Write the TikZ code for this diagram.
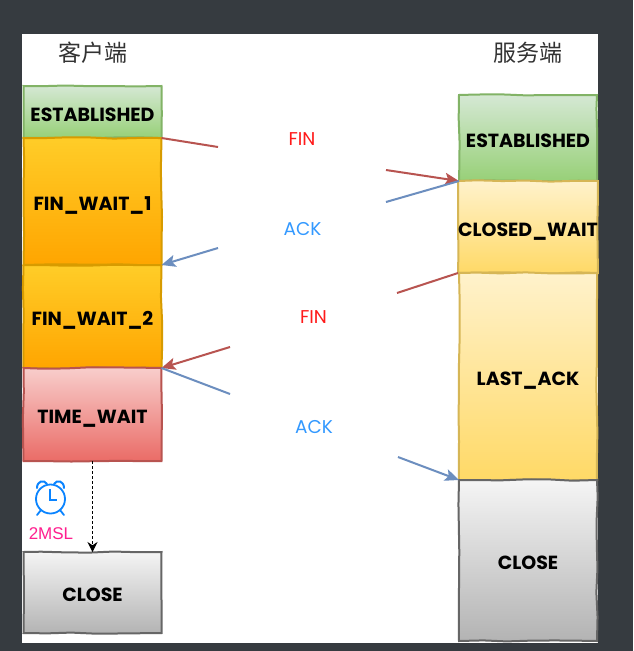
\documentclass[tikz,border=0pt]{standalone}
\usepackage{fontspec}
\setmainfont{Poppins}
\newfontfamily\cjkfont{Noto Sans CJK SC}
\newfontfamily\msfont{Liberation Sans}
\usetikzlibrary{positioning, arrows.meta, decorations.pathmorphing}
\definecolor{pagebg}{HTML}{363B40}
\definecolor{redline}{HTML}{B85450}
\definecolor{blueline}{HTML}{6C8EBF}
\definecolor{fintext}{HTML}{FF1A1A}
\definecolor{acktext}{HTML}{3399FF}
\definecolor{msltext}{HTML}{FF1F8F}
\definecolor{clockblue}{HTML}{0A84FF}
\definecolor{greenline}{HTML}{82B366}
\definecolor{greentop}{HTML}{D5E8D4}
\definecolor{greenbot}{HTML}{97D077}
\definecolor{orangeline}{HTML}{D79B00}
\definecolor{orangetop}{HTML}{FFCD28}
\definecolor{orangebot}{HTML}{FFA500}
\definecolor{yellowline}{HTML}{D6B656}
\definecolor{yellowtop}{HTML}{FFF2CC}
\definecolor{yellowbot}{HTML}{FFD966}
\definecolor{redtop}{HTML}{F8CECC}
\definecolor{redbot}{HTML}{EA6B66}
\definecolor{grayline}{HTML}{666666}
\definecolor{graytop}{HTML}{F5F5F5}
\definecolor{graybot}{HTML}{B3B3B3}
\definecolor{titlecolor}{HTML}{333333}
\tikzstyle{statebox} = [rectangle, line width=2pt, inner sep=0pt, outer sep=0pt, minimum width=138pt, text=black, text height=18pt, text depth=0pt, font=\fontsize{19}{22}\selectfont\bfseries, decorate, decoration={random steps, segment length=24pt, amplitude=0.7pt}]
\tikzset{
	greenbox/.style={statebox, draw=greenline, top color=greentop, bottom color=greenbot},
	orangebox/.style={statebox, draw=orangeline, top color=orangetop, bottom color=orangebot},
	yellowbox/.style={statebox, draw=yellowline, top color=yellowtop, bottom color=yellowbot},
	redbox/.style={statebox, draw=redline, top color=redtop, bottom color=redbot},
	graybox/.style={statebox, draw=grayline, top color=graytop, bottom color=graybot},
	redarrow/.style={draw=redline, fill=redline, line width=2pt},
	bluearrow/.style={draw=blueline, fill=blueline, line width=2pt},
	msgtext/.style={font=\fontsize{18.5}{20}\selectfont},
	titletext/.style={font=\cjkfont\fontsize{23}{26}\selectfont, text=titlecolor}
}
\begin{document}
\begin{tikzpicture}[>={Stealth[length=14pt,width=12pt,inset=3pt]}, x=1pt, y=-1pt]
	\pgfmathsetseed{7}
	\useasboundingbox (0,0) rectangle (633,651);
	\fill[pagebg] (0,0) rectangle (633,651);
	\fill[white] (22,34) rectangle (598,643);

	% titles
	\node[titletext] (client) at (92.5,53) {客户端};
	\node[titletext] (server) at (528,53) {服务端};

	% client states
	\node[greenbox, minimum height=52pt] (cest) at (92.5,112) {ESTABLISHED};
	\node[orangebox, minimum height=127pt, below=0pt of cest] (finone) {FIN\_WAIT\_1};
	\node[orangebox, minimum height=103pt, below=0pt of finone] (fintwo) {FIN\_WAIT\_2};
	\node[redbox, minimum height=93pt, below=0pt of fintwo] (timewait) {TIME\_WAIT};
	\node[graybox, minimum height=81pt] (cclose) at (92.5,592.5) {CLOSE};

	% server states
	\node[greenbox, minimum height=86pt] (sest) at (528,138) {ESTABLISHED};
	\node[yellowbox, minimum height=92pt, below=0pt of sest] (closewait) {CLOSED\_WAIT};
	\node[yellowbox, minimum height=207pt, below=0pt of closewait] (lastack) {LAST\_ACK};
	\node[graybox, minimum height=161pt, below=0pt of lastack] (sclose) {CLOSE};

	% free ends of the broken lines
	\coordinate (fina) at (218,147);
	\coordinate (finb) at (386,170);
	\coordinate (acka) at (386,202);
	\coordinate (ackb) at (218,248);
	\coordinate (finc) at (397,293);
	\coordinate (find) at (230,347);
	\coordinate (acke) at (230,394);
	\coordinate (ackf) at (398,457);

	% connections
	\draw[redarrow] (cest.south east) -- (fina);
	\draw[redarrow, ->] (finb) -- (sest.south west);
	\draw[bluearrow] (sest.south west) -- (acka);
	\draw[bluearrow, ->] (ackb) -- (finone.south east);
	\draw[redarrow] (closewait.south west) -- (finc);
	\draw[redarrow, ->] (find) -- (fintwo.south east);
	\draw[bluearrow] (fintwo.south east) -- (acke);
	\draw[bluearrow, ->] (ackf) -- (lastack.south west);
	\draw[dash pattern=on 2.5pt off 2.5pt, line width=1pt, >={Stealth[length=10pt,width=10pt]}, ->] (timewait.south) -- (cclose.north);

	% labels
	\node[msgtext, text=fintext] (fintexta) at (302,139.5) {FIN};
	\node[msgtext, text=acktext] (acktexta) at (302.5,229.5) {ACK};
	\node[msgtext, text=fintext] (fintextb) at (313.5,317.5) {FIN};
	\node[msgtext, text=acktext] (acktextb) at (314,427.5) {ACK};
	\node[font=\msfont\fontsize{17}{18}\selectfont, text=msltext] (msl) at (51,534) {2MSL};

	% clock
	\draw[clockblue, line width=1.8pt] (50.5,499) circle (14.5pt);
	\draw[clockblue, line width=1.4pt] (50,489) -- (50,500) -- (57,500);
	\draw[clockblue, line width=2pt, line cap=round] (37,488) .. controls (37,481) and (44,479) .. (47,484);
	\draw[clockblue, line width=2pt, line cap=round] (54,484) .. controls (57,479) and (64,481) .. (64,488);
	\draw[clockblue, line width=1.8pt, line cap=round] (41,510) -- (37,515);
	\draw[clockblue, line width=1.8pt, line cap=round] (60,510) -- (64,515);
\end{tikzpicture}
\end{document}
